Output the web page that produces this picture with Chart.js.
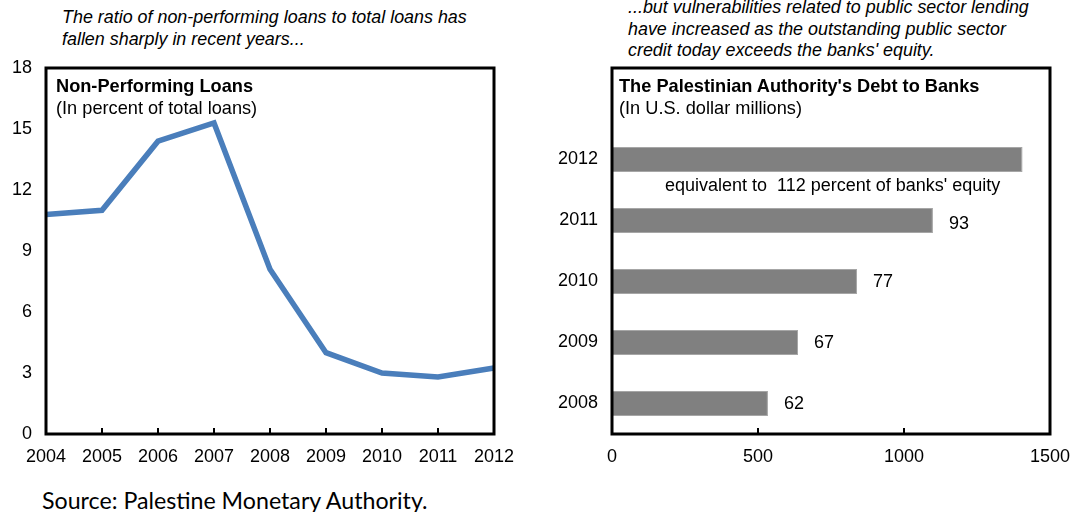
<!DOCTYPE html>
<html>
<head>
<meta charset="utf-8">
<script src="https://cdn.jsdelivr.net/npm/chart.js@4.4.1/dist/chart.umd.min.js"></script>
<style>
  body { margin: 0; width: 1072px; height: 512px; background: #fff; position: relative; overflow: hidden;
         font-family: "Liberation Sans", Arial, sans-serif; color: #000; }
  .wrap { position: absolute; top: 0; height: 480px; }
  .note { position: absolute; font-style: italic; font-size: 17.9px; line-height: 21.5px; white-space: nowrap; }
  .ttl { position: absolute; font-size: 18.2px; line-height: 21.5px; white-space: nowrap; }
  #equity { position: absolute; left: 665px; top: 175px; font-size: 18px; white-space: nowrap; }
  #source { position: absolute; left: 42px; top: 486px; font-family: Lato, "Noto Sans", sans-serif; font-size: 23.2px; white-space: nowrap; }
</style>
</head>
<body>

<div class="note" style="left:62px; top:7px;">The ratio of non-performing loans to total loans has<br>fallen sharply in recent years...</div>
<div class="note" style="left:628px; top:-3px;">...but vulnerabilities related to public sector lending<br>have increased as the outstanding public sector<br>credit today exceeds the banks' equity.</div>

<div class="wrap" style="left:0; width:540px;"><canvas id="npl-chart"></canvas></div>
<div class="wrap" style="left:540px; width:532px;"><canvas id="debt-chart"></canvas></div>

<div class="ttl" style="left:56px; top:76px;"><b>Non-Performing Loans</b><br>(In percent of total loans)</div>
<div class="ttl" style="left:619px; top:76px;"><b>The Palestinian Authority's Debt to Banks</b><br>(In U.S. dollar millions)</div>
<div id="equity">equivalent to&nbsp; 112 percent of banks' equity</div>

<div id="source">Source: Palestine Monetary Authority.</div>

<script>
// ─── DATA ────────────────────────────────────────────────────────
const nplYears = ['2004', '2005', '2006', '2007', '2008', '2009', '2010', '2011', '2012'];
const nplRatio = [10.8, 11.0, 14.4, 15.3, 8.1, 4.0, 3.0, 2.8, 3.25];
const nplMax = 18, nplStep = 3;

const debtYears = ['2008', '2009', '2010', '2011', '2012'];
const debtValues = [534, 637, 839, 1099, 1406];
const equityPct = ['62', '67', '77', '93', ''];
const debtMax = 1500, debtStep = 500;

const FONT = "'Liberation Sans', Arial, sans-serif";
Chart.defaults.font.family = FONT;
Chart.defaults.color = '#000';
const tickFont = { family: FONT, size: 18 };

// box around the plot area + small inward ticks on the bottom axis
const frame = {
  id: 'frame',
  afterDraw(chart) {
    const { ctx, chartArea: a } = chart;
    const xs = chart.scales.x;
    ctx.save();
    ctx.strokeStyle = '#000';
    ctx.lineWidth = 2;
    xs.ticks.forEach((t, i) => {
      const px = xs.getPixelForTick(i);
      if (px <= a.left + 2 || px >= a.right - 2) return;
      ctx.beginPath();
      ctx.moveTo(px, a.bottom);
      ctx.lineTo(px, a.bottom - 6);
      ctx.stroke();
    });
    ctx.lineWidth = 3;
    ctx.strokeRect(a.left, a.top, a.right - a.left, a.bottom - a.top);
    ctx.restore();
  }
};

const barLabels = {
  id: 'barLabels',
  afterDatasetsDraw(chart) {
    const { ctx } = chart;
    const meta = chart.getDatasetMeta(0);
    ctx.save();
    ctx.font = '18px ' + FONT;
    ctx.fillStyle = '#000';
    ctx.textAlign = 'left';
    ctx.textBaseline = 'middle';
    meta.data.forEach((bar, i) => {
      const txt = equityPct[i];
      if (!txt) return;
      ctx.fillText(txt, bar.x + 16, bar.y + (i === 3 ? 4 : 1));
    });
    ctx.restore();
  }
};

// keep the plot box where the layout padding puts it
const noLabelPad = s => { s.height = 46; s.paddingLeft = 0; s.paddingRight = 0; };

new Chart(document.getElementById('npl-chart'), {
  type: 'line',
  data: {
    labels: nplYears,
    datasets: [{
      data: nplRatio,
      borderColor: '#4a7ebb',
      borderWidth: 5.5,
      pointRadius: 0,
      tension: 0,
    }]
  },
  options: {
    responsive: true,
    maintainAspectRatio: false,
    animation: false,
    layout: { padding: { left: 0, top: 68, right: 46, bottom: 0 } },
    plugins: { legend: { display: false }, tooltip: { enabled: false } },
    scales: {
      x: {
        offset: false,
        grid: { display: false, drawTicks: false },
        border: { display: false },
        ticks: { color: '#000', font: tickFont, padding: 12, maxRotation: 0, autoSkip: false },
        afterFit: noLabelPad,
      },
      y: {
        min: 0,
        max: nplMax,
        grid: { display: false, drawTicks: false },
        border: { display: false },
        ticks: { color: '#000', font: tickFont, padding: 14, stepSize: nplStep },
        afterFit: s => { s.width = 46; },
      }
    }
  },
  plugins: [frame]
});

new Chart(document.getElementById('debt-chart'), {
  type: 'bar',
  data: {
    labels: [...debtYears, ''],
    datasets: [{
      data: [...debtValues, null],
      backgroundColor: '#808080',
      borderColor: '#a6a6a6',
      borderWidth: 1,
      categoryPercentage: 1,
      barPercentage: 0.41,
    }]
  },
  options: {
    indexAxis: 'y',
    responsive: true,
    maintainAspectRatio: false,
    animation: false,
    layout: { padding: { left: 0, top: 68, right: 22, bottom: 0 } },
    plugins: { legend: { display: false }, tooltip: { enabled: false } },
    scales: {
      x: {
        min: 0,
        max: debtMax,
        grid: { display: false, drawTicks: false },
        border: { display: false },
        ticks: { color: '#000', font: tickFont, padding: 12, stepSize: debtStep, callback: v => String(v) },
        afterFit: noLabelPad,
      },
      y: {
        reverse: true,
        grid: { display: false, drawTicks: false },
        border: { display: false },
        ticks: { color: '#000', font: tickFont, padding: 14 },
        afterFit: s => { s.width = 72; },
      }
    }
  },
  plugins: [frame, barLabels]
});
</script>
</body>
</html>
